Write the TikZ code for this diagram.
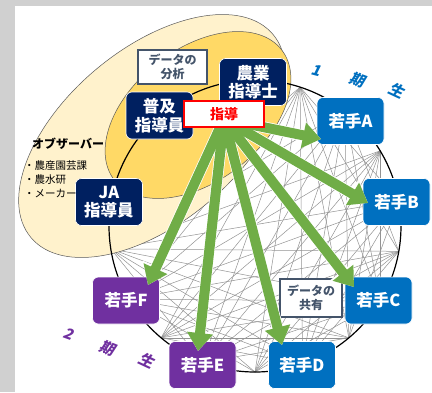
\documentclass[tikz,border=0pt]{standalone}
\usepackage{fontspec}
\setmainfont{Noto Sans CJK JP}
\newfontfamily\jpsl[FakeSlant=0.2]{Noto Sans CJK JP}
\usetikzlibrary{arrows.meta}
\definecolor{navyc}{HTML}{002060}
\definecolor{bluec}{HTML}{0070C0}
\definecolor{purplec}{HTML}{7030A0}
\definecolor{greenc}{HTML}{70AD47}
\definecolor{paleY}{HTML}{FFF2CC}
\definecolor{goldY}{HTML}{FFD966}
\definecolor{slatec}{HTML}{44546A}
\definecolor{framec}{HTML}{D0D0D0}
\tikzset{
  box/.style={rounded corners=6pt, minimum width=67pt, minimum height=47pt,
    inner sep=1pt, align=center, text=white, draw=white, line width=0.6pt,
    font=\fontsize{16.5}{18.5}\selectfont\bfseries},
  navybox/.style={box, fill=navyc},
  bluebox/.style={box, fill=bluec},
  purplebox/.style={box, fill=purplec},
  databox/.style={draw=slatec, line width=1.3pt, fill=white, align=center,
    text=slatec, inner sep=1pt, font=\fontsize{12}{14.5}\selectfont\bfseries},
  web/.style={draw=gray!85, line width=0.5pt},
  ring/.style={draw=black, line width=1.2pt},
  garrow/.style={draw=greenc, line width=10pt,
    -{Triangle[length=18pt,width=25pt]}},
  garrowbg/.style={draw=white, line width=11.5pt,
    -{Triangle[length=20pt,width=28pt]}},
  shidobox/.style={draw=red, line width=1.3pt, fill=white, text=red, minimum width=80pt,
    minimum height=26pt, inner sep=1pt, font=\fontsize{14}{14}\selectfont\bfseries},
  term1/.style={text=bluec, font=\jpsl\fontsize{15}{15}\selectfont\bfseries},
  term2/.style={text=purplec, font=\jpsl\fontsize{15}{15}\selectfont\bfseries}
}
\begin{document}
\begin{tikzpicture}[x=1pt,y=-1pt]
\useasboundingbox (0,0) rectangle (432,392);
\fill[white] (0,0) rectangle (432,392);
\fill[framec] (0,0) rectangle (432,6);
\fill[framec] (0,0) rectangle (15,392);

% web of thin lines on the ring
\foreach \a in {72,52,31,10,-10,-31,-50,-71,-90,-111,-130,-150,-171}{
  \foreach \b in {72,52,31,10,-10,-31,-50,-71,-90,-111,-130,-150,-171}{
    \pgfmathtruncatemacro\dd{\a-\b}
    \ifnum\dd>55
      \draw[web] ({255+146*cos(\a)},{226-146*sin(\a)}) -- ({255+146*cos(\b)},{226-146*sin(\b)});
    \fi
  }
}

% ellipses
\begin{scope}[shift={(152,136)}, rotate=40]
  \draw[fill=paleY, draw=gray!70!black, line width=0.5pt] (0,0) ellipse [x radius=158pt, y radius=87pt];
\end{scope}
\begin{scope}[shift={(198,115)}, rotate=38]
  \draw[fill=goldY, draw=gray!70!black, line width=0.5pt] (0,0) ellipse [x radius=106pt, y radius=66pt];
\end{scope}

% ring
\draw[ring] (255,226) circle [radius=146pt];

% nodes
\node[navybox] (fukyu) at (159.5,115.5) {普及\\指導員};
\node[navybox] (nogyo) at (253,82) {農業\\指導士};
\node[navybox] (ja) at (109,202) {JA\\指導員};
\node[bluebox] (wA) at (350.5,121) {若手A};
\node[bluebox] (wB) at (396.5,202) {若手B};
\node[bluebox] (wC) at (378.5,300.5) {若手C};
\node[bluebox] (wD) at (302,365) {若手D};
\node[purplebox] (wE) at (202.5,365) {若手E};
\node[purplebox] (wF) at (126,300.5) {若手F};

% data boxes
\node[databox, minimum width=69pt, minimum height=34pt] (bunseki) at (172.5,67) {データの\\分析};
\node[databox, minimum width=62pt, minimum height=38pt] (kyoyu) at (311,298) {データの\\共有};

% arrows from the guidance box
\coordinate (src) at (224,119);
\coordinate (tA) at (321,139);
\coordinate (tB) at (368,203);
\coordinate (tC) at (354,287);
\coordinate (tD) at (282,345);
\coordinate (tE) at (198,351);
\coordinate (tF) at (148,285);
\foreach \t in {tA,tB,tC,tD,tE,tF}{
  \draw[garrowbg] (src) -- (\t);
}
\foreach \t in {tA,tB,tC,tD,tE,tF}{
  \draw[garrow] (src) -- (\t);
}
\node[shidobox] (shido) at (224,114) {指導};

% observer text
\node[anchor=west, font=\fontsize{12}{12}\selectfont\bfseries, inner sep=0pt] (obs) at (32,144) {オブザーバー};
\node[anchor=north west, align=left, font=\fontsize{10.5}{14}\selectfont, inner sep=0pt] (obslist) at (24,160)
  {・農産園芸課\\・農水研\\・メーカー};

% term labels
\node[term1, rotate=-15] (k1a) at (316,70) {1};
\node[term1, rotate=-20] (k1b) at (357,80) {期};
\node[term1, rotate=-25] (k1c) at (397,90) {生};
\node[term2, rotate=-20] (k2a) at (69,334) {2};
\node[term2, rotate=-22] (k2b) at (108,348) {期};
\node[term2, rotate=-25] (k2c) at (147,360) {生};
\end{tikzpicture}
\end{document}
